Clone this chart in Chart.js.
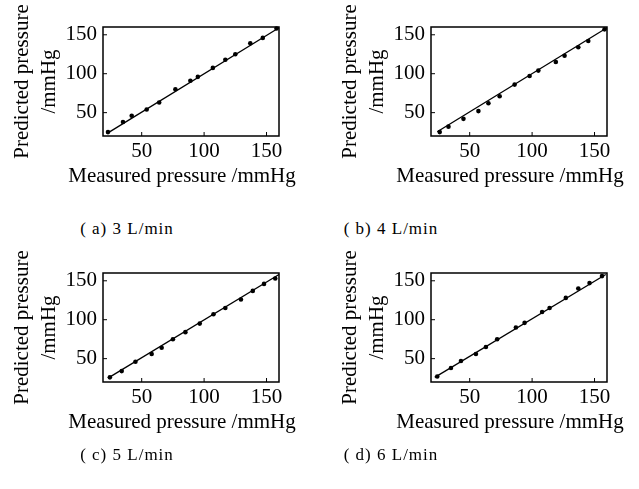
<!DOCTYPE html>
<html>
<head>
<meta charset="utf-8">
<script src="https://cdn.jsdelivr.net/npm/chart.js@4.4.1/dist/chart.umd.min.js"></script>
<style>
  body { margin: 0; background: #fff; width: 639px; height: 489px; position: relative; overflow: hidden; }
  .panel { position: absolute; }
  .caption {
    position: absolute;
    font-family: "Liberation Serif", "Times New Roman", serif;
    font-size: 17px;
    letter-spacing: 1px;
    color: #000;
    white-space: nowrap;
    transform: translate(-50%, -50%);
  }
</style>
</head>
<body>
<canvas id="chartA" class="panel" width="300" height="200" style="left:0;top:0"></canvas>
<canvas id="chartB" class="panel" width="300" height="200" style="left:328px;top:0"></canvas>
<canvas id="chartC" class="panel" width="300" height="200" style="left:0;top:246px"></canvas>
<canvas id="chartD" class="panel" width="300" height="200" style="left:328px;top:246px"></canvas>
<div class="caption" style="left:127px;top:229px">( a) 3 L/min</div>
<div class="caption" style="left:391px;top:229px">( b) 4 L/min</div>
<div class="caption" style="left:127px;top:455px">( c) 5 L/min</div>
<div class="caption" style="left:391px;top:455px">( d) 6 L/min</div>
<script>
// Tick labels shared by both axes of every panel
const tickValues = [50, 100, 150];
const xTitle = "Measured pressure /mmHg";
const yTitle = ["Predicted pressure", "/mmHg"];

// (a) 3 L/min
const measuredA = [23, 35, 42, 54, 64, 77, 89, 95, 107, 117, 125, 137, 147, 158];
const predictedA = [25, 38, 46, 54, 63, 80, 91, 96, 107.5, 118, 125, 139, 146, 158];
const fitXA = [22, 160];
const fitYA = [23, 159];

// (b) 4 L/min
const measuredB = [26, 33, 45, 57, 65, 74, 86, 98, 105, 119, 126, 137, 145, 158];
const predictedB = [25, 32, 42, 52, 62, 71, 86, 97, 104, 115, 123, 134, 142, 157];
const fitXB = [24, 160];
const fitYB = [25.5, 159];

// (c) 5 L/min
const measuredC = [24.5, 34, 45, 58, 66, 75, 85, 96.5, 107.5, 117, 129.5, 139, 148, 157];
const predictedC = [26, 34, 46, 56, 64, 75, 84, 95, 107, 115, 126, 137, 146, 153];
const fitXC = [23, 160];
const fitYC = [25, 158];

// (d) 6 L/min
const measuredD = [24, 35, 43, 55, 63, 72, 87, 94, 108, 114, 127, 137, 146, 156];
const predictedD = [27, 38, 47, 56, 65, 75, 90, 96, 110, 115, 128, 140, 147, 156];
const fitXD = [22, 159];
const fitYD = [26, 158];

const serif = '"Liberation Serif", "Times New Roman", serif';

// Box around the plot area, short inward tick marks and the x title
// (drawn here because Chart.js squeezes titles to the axis width)
const frameAndTicks = {
  id: "frameAndTicks",
  afterDatasetsDraw(chart) {
    const { ctx, chartArea: a, scales } = chart;
    ctx.save();
    ctx.strokeStyle = "#000";
    ctx.lineWidth = 1;
    tickValues.forEach((v) => {
      const px = scales.x.getPixelForValue(v);
      ctx.beginPath();
      ctx.moveTo(px, a.bottom);
      ctx.lineTo(px, a.bottom - 4);
      ctx.stroke();
      const py = scales.y.getPixelForValue(v);
      ctx.beginPath();
      ctx.moveTo(a.left, py);
      ctx.lineTo(a.left + 4, py);
      ctx.stroke();
    });
    ctx.lineWidth = 1.5;
    ctx.strokeRect(a.left, a.top, a.right - a.left, a.bottom - a.top);

    ctx.fillStyle = "#000";
    ctx.font = "21px " + serif;
    ctx.textAlign = "center";
    ctx.textBaseline = "middle";
    ctx.fillText(xTitle, (a.left + a.right) / 2 - 9, a.bottom + 40);
    ctx.restore();
  },
};

function toPoints(xs, ys) {
  return xs.map((x, i) => ({ x: x, y: ys[i] }));
}

function makePanel(id, measured, predicted, fitX, fitY) {
  const ctx = document.getElementById(id).getContext("2d");
  return new Chart(ctx, {
    type: "scatter",
    data: {
      datasets: [
        {
          type: "line",
          data: toPoints(fitX, fitY),
          borderColor: "#000",
          borderWidth: 1.3,
          pointRadius: 0,
          fill: false,
          clip: false,
        },
        {
          data: toPoints(measured, predicted),
          backgroundColor: "#000",
          borderColor: "#000",
          pointRadius: 2.3,
          borderWidth: 0,
          clip: false,
        },
      ],
    },
    options: {
      responsive: false,
      animation: false,
      layout: { padding: { top: 27, right: 21, left: 0, bottom: 0 } },
      plugins: { legend: { display: false }, tooltip: { enabled: false } },
      scales: {
        x: {
          type: "linear",
          min: 19,
          max: 160,
          afterBuildTicks: (s) => { s.ticks = tickValues.map((v) => ({ value: v })); },
          afterFit: (s) => { s.height = 64; },
          grid: { display: false, drawTicks: false },
          border: { display: false },
          ticks: { padding: 3, color: "#000", font: { family: serif, size: 21 } },
        },
        y: {
          type: "linear",
          min: 20,
          max: 160,
          afterBuildTicks: (s) => { s.ticks = tickValues.map((v) => ({ value: v })); },
          afterFit: (s) => { s.width = 103; },
          grid: { display: false, drawTicks: false },
          border: { display: false },
          ticks: { padding: 6, color: "#000", font: { family: serif, size: 21 } },
          title: {
            display: true,
            text: yTitle,
            color: "#000",
            font: { family: serif, size: 21, lineHeight: 1.3 },
            padding: { top: 9, bottom: 0 },
          },
        },
      },
    },
    plugins: [frameAndTicks],
  });
}

makePanel("chartA", measuredA, predictedA, fitXA, fitYA);
makePanel("chartB", measuredB, predictedB, fitXB, fitYB);
makePanel("chartC", measuredC, predictedC, fitXC, fitYC);
makePanel("chartD", measuredD, predictedD, fitXD, fitYD);
</script>
</body>
</html>
